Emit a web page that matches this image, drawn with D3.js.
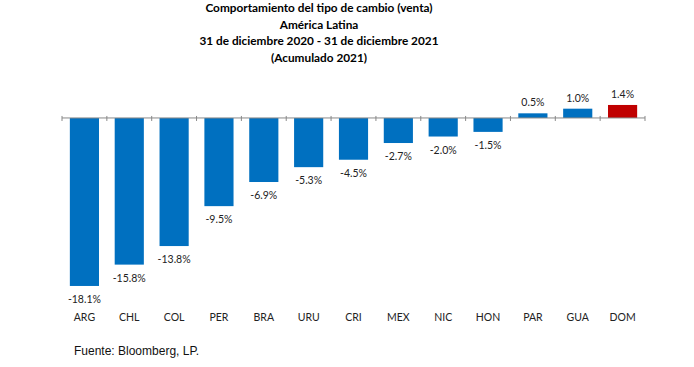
<!DOCTYPE html>
<html>
<head>
<meta charset="utf-8">
<script src="https://cdn.jsdelivr.net/npm/d3@7"></script>
<style>
  body { margin: 0; background: #fff; }
</style>
</head>
<body>
<div id="chart"></div>
<script>
var titleLines = [
  "Comportamiento del tipo de cambio (venta)",
  "América Latina",
  "31 de diciembre 2020 - 31 de diciembre 2021",
  "(Acumulado 2021)"
];
var countries = ["ARG", "CHL", "COL", "PER", "BRA", "URU", "CRI", "MEX", "NIC", "HON", "PAR", "GUA", "DOM"];
var changes = [-18.1, -15.8, -13.8, -9.5, -6.9, -5.3, -4.5, -2.7, -2.0, -1.5, 0.5, 1.0, 1.4];
var highlight = "DOM";
var source = "Fuente: Bloomberg, LP.";

var width = 694, height = 367;
var font = "Lato, 'Open Sans', sans-serif";

var svg = d3.select("#chart")
  .append("svg")
  .attr("width", width)
  .attr("height", height);

// title
svg.append("g")
  .selectAll("text")
  .data(titleLines)
  .enter()
  .append("text")
  .attr("x", 319)
  .attr("y", function (d, i) { return 12 + i * 16.5; })
  .attr("text-anchor", "middle")
  .style("font-family", font)
  .style("font-size", "11.8px")
  .style("font-weight", "bold")
  .text(function (d) { return d; });

var x = d3.scaleBand()
  .domain(countries)
  .range([62, 645])
  .paddingInner(0.35)
  .paddingOuter(0.175);

var y = d3.scaleLinear()
  .domain([-20, 2])
  .range([303.6, 99.4]);

var data = countries.map(function (c, i) { return { name: c, value: changes[i] }; });

// bars
svg.append("g")
  .selectAll("rect")
  .data(data)
  .enter()
  .append("rect")
  .attr("x", function (d) { return x(d.name); })
  .attr("width", x.bandwidth())
  .attr("y", function (d) { return y(Math.max(0, d.value)); })
  .attr("height", function (d) { return Math.abs(y(d.value) - y(0)); })
  .style("fill", function (d) { return d.name == highlight ? "#C00000" : "#0070C0"; });

// zero axis with ticks between categories
var axisG = svg.append("g");
axisG.append("line")
  .attr("x1", 62)
  .attr("x2", 645)
  .attr("y1", y(0))
  .attr("y2", y(0))
  .style("stroke", "#888")
  .style("stroke-width", 1);

var step = x.step();
var bounds = d3.range(countries.length + 1).map(function (i) { return 62 + i * step; });
axisG.selectAll(".tick")
  .data(bounds)
  .enter()
  .append("line")
  .attr("class", "tick")
  .attr("x1", function (d) { return d; })
  .attr("x2", function (d) { return d; })
  .attr("y1", y(0) - 2)
  .attr("y2", y(0) + 3)
  .style("stroke", "#888")
  .style("stroke-width", 1);

// value labels
svg.append("g")
  .selectAll("text")
  .data(data)
  .enter()
  .append("text")
  .attr("x", function (d) { return x(d.name) + x.bandwidth() / 2; })
  .attr("y", function (d) { return d.value < 0 ? y(d.value) + 17 : y(d.value) - 7; })
  .attr("text-anchor", "middle")
  .style("font-family", font)
  .style("font-size", "10.5px")
  .style("fill", "#222")
  .text(function (d) { return d.value.toFixed(1) + "%"; });

// category labels
svg.append("g")
  .selectAll("text")
  .data(countries)
  .enter()
  .append("text")
  .attr("x", function (d) { return x(d) + x.bandwidth() / 2; })
  .attr("y", 321)
  .attr("text-anchor", "middle")
  .style("font-family", font)
  .style("font-size", "10.5px")
  .style("fill", "#222")
  .text(function (d) { return d; });

// source
svg.append("text")
  .attr("x", 74)
  .attr("y", 355)
  .style("font-family", "'Liberation Sans', Arial, sans-serif")
  .style("font-size", "12px")
  .style("fill", "#111")
  .text(source);
</script>
</body>
</html>
